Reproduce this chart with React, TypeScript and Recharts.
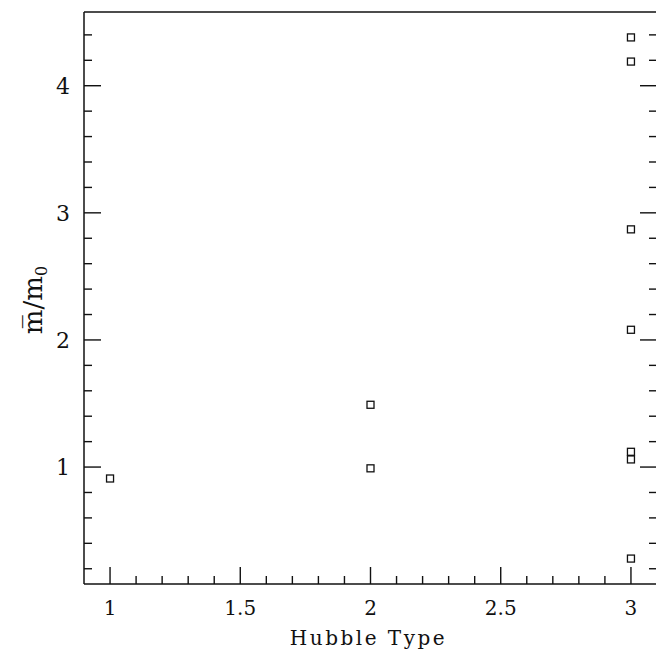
import React from 'react';
import { ScatterChart, Scatter, XAxis, YAxis } from 'recharts';

// Hubble type vs. mean mass ratio
const hubbleType = [1, 2, 2, 3, 3, 3, 3, 3, 3, 3];
const massRatio = [0.91, 1.49, 0.99, 4.38, 4.19, 2.87, 2.08, 1.12, 1.06, 0.28];

const xTicks = [
  1, 1.1, 1.2, 1.3, 1.4, 1.5, 1.6, 1.7, 1.8, 1.9, 2, 2.1, 2.2, 2.3, 2.4, 2.5, 2.6, 2.7,
  2.8, 2.9, 3,
];
const xTickLabels = [1, 1.5, 2, 2.5, 3];
const yTicks = [
  0.2, 0.4, 0.6, 0.8, 1, 1.2, 1.4, 1.6, 1.8, 2, 2.2, 2.4, 2.6, 2.8, 3, 3.2, 3.4, 3.6,
  3.8, 4, 4.2, 4.4,
];
const yTickLabels = [1, 2, 3, 4];

const data = hubbleType.map((t, i) => ({ x: t, y: massRatio[i] }));

const FONT = '"DejaVu Serif", serif';
const INK = '#111';
const PLOT_W = 573; // width of the frame, right edge falls just off the page

const BottomTick = ({ x, y, payload }: any) => {
  const major = xTickLabels.includes(payload.value);
  return (
    <g>
      <line x1={x} x2={x} y1={y} y2={y - (major ? 17 : 8)} stroke={INK} strokeWidth={1.4} />
      {major && (
        <text x={x} y={y + 31} textAnchor="middle" fontFamily={FONT} fontSize={20} fill={INK}>
          {String(payload.value)}
        </text>
      )}
    </g>
  );
};

const TopTick = ({ x, y, payload }: any) => {
  const major = xTickLabels.includes(payload.value);
  return <line x1={x} x2={x} y1={y} y2={y + (major ? 17 : 8)} stroke={INK} strokeWidth={1.4} />;
};

// left ticks + labels, and the matching inward ticks on the right frame edge
const SideTick = ({ x, y, payload }: any) => {
  const major = yTickLabels.includes(payload.value);
  const len = major ? 17 : 8;
  const rx = x + PLOT_W;
  return (
    <g>
      <line x1={x} x2={x + len} y1={y} y2={y} stroke={INK} strokeWidth={1.4} />
      <line x1={rx} x2={rx - len} y1={y} y2={y} stroke={INK} strokeWidth={1.4} />
      {major && (
        <text x={x - 21} y={y + 8} textAnchor="middle" fontFamily={FONT} fontSize={22} fill={INK}>
          {String(payload.value)}
        </text>
      )}
    </g>
  );
};

const Square = ({ cx, cy }: any) => (
  <rect x={cx - 3.5} y={cy - 3.5} width={7} height={7} fill="none" stroke={INK} strokeWidth={1.3} />
);

const axisLine = { stroke: INK, strokeWidth: 1.5 };

export default function App() {
  return (
    <div
      style={{
        position: 'absolute',
        left: 0,
        top: 0,
        width: 656,
        height: 650,
        overflow: 'hidden',
        background: '#fff',
      }}
    >
      <ScatterChart width={657} height={650} margin={{ top: 0, right: 0, bottom: 0, left: 0 }}>
        <XAxis
          xAxisId="bottom"
          dataKey="x"
          type="number"
          domain={[0.9, 3.1]}
          ticks={xTicks}
          interval={0}
          height={66}
          tickSize={0}
          tickMargin={0}
          axisLine={axisLine}
          tickLine={false}
          tick={<BottomTick />}
          label={({ viewBox }: any) => (
            <text
              x={viewBox.x + viewBox.width / 2 - 2}
              y={viewBox.y + 61}
              textAnchor="middle"
              fontFamily={FONT}
              fontSize={20}
              letterSpacing={2.5}
              fill={INK}
            >
              Hubble Type
            </text>
          )}
        />
        <XAxis
          xAxisId="top"
          orientation="top"
          type="number"
          domain={[0.9, 3.1]}
          ticks={xTicks}
          interval={0}
          height={12}
          tickSize={0}
          tickMargin={0}
          axisLine={axisLine}
          tickLine={false}
          tick={<TopTick />}
        />
        <YAxis
          yAxisId="left"
          dataKey="y"
          type="number"
          domain={[0.08, 4.58]}
          ticks={yTicks}
          interval={0}
          width={84}
          tickSize={0}
          tickMargin={0}
          axisLine={axisLine}
          tickLine={false}
          tick={<SideTick />}
          label={({ viewBox }: any) => {
            const cx = 42;
            const cy = viewBox.y + 288;
            return (
              <text
                x={cx}
                y={cy}
                transform={`rotate(-90 ${cx} ${cy})`}
                textAnchor="middle"
                fontFamily={FONT}
                fontSize={26}
                fill={INK}
              >
                {'m\u0305/m'}
                <tspan fontSize={16} dy={5}>
                  0
                </tspan>
              </text>
            );
          }}
        />
        <Scatter
          data={data}
          xAxisId="bottom"
          yAxisId="left"
          shape={<Square />}
          isAnimationActive={false}
        />
      </ScatterChart>
    </div>
  );
}
